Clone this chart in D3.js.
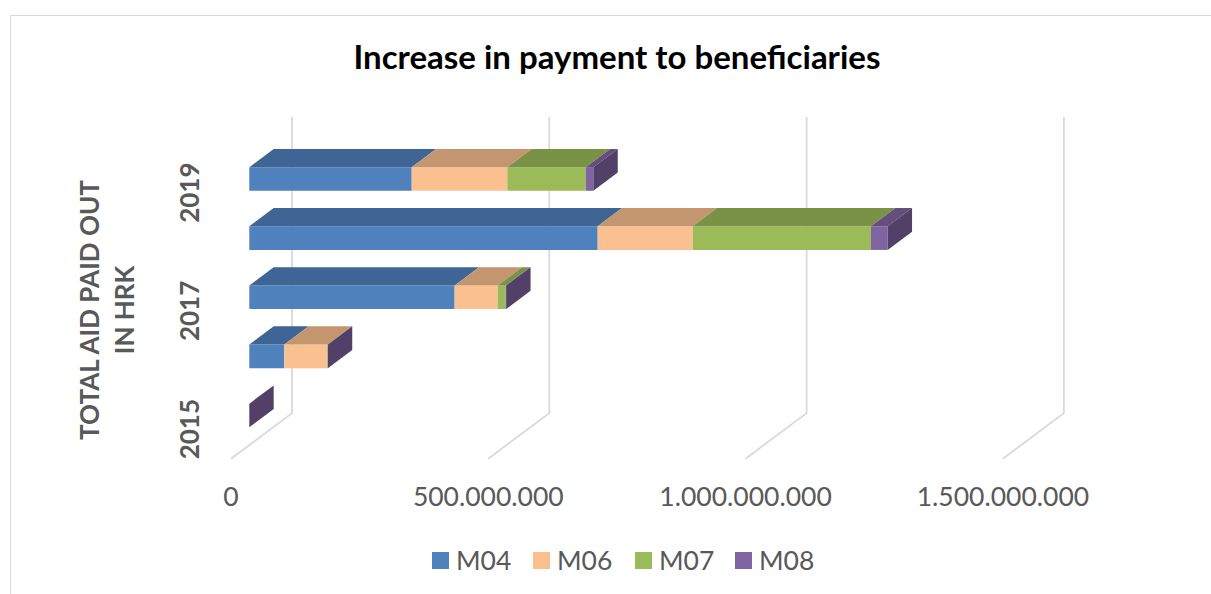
<!DOCTYPE html>
<html>
<head>
<meta charset="utf-8">
<script src="https://cdn.jsdelivr.net/npm/d3@7/dist/d3.min.js"></script>
<style>
  html, body { margin: 0; padding: 0; background: #fff; }
  svg { display: block; }
  text { font-family: Lato, "Open Sans", sans-serif; }
</style>
</head>
<body>
<svg id="chart" width="1211" height="594"></svg>
<script>
// Yearly aid paid out, stacked by measure (HRK)
const years = ["2015", "2016", "2017", "2018", "2019"];
const seriesNames = ["M04", "M06", "M07", "M08"];
const M04 = [0, 68e6, 399e6, 677e6, 315.6e6];
const M06 = [0, 83.6e6, 83.6e6, 184.6e6, 185.8e6];
const M07 = [0, 1e6, 15.5e6, 346.5e6, 152.4e6];
const M08 = [0, 0, 1e6, 32.4e6, 14.8e6];
const xTicks = [0, 500e6, 1000e6, 1500e6];
const yLabelYears = ["2015", "2017", "2019"];
const colors = ["#4F81BD", "#FAC090", "#9BBB59", "#8064A2"];

const svg = d3.select("#chart");

// oblique 3D projection: z runs from the front plane (0) to the back wall (1)
const X0 = 231, DX = 61, DY = 45.6;
const x = d3.scaleLinear().domain([0, 1500e6]).range([0, 771.9]);
const y = d3.scaleBand().domain(years.slice().reverse())
  .range([163.1, 458.7]).paddingInner(0.6).paddingOuter(0.3);
const floorY = 458.7, wallTopY = 117 + DY;
const proj = (v, yy, z) => [X0 + x(v) + z * DX, yy - z * DY];
const Z0 = 0.3, Z1 = 0.7;

const shade = (c, k) => { const r = d3.rgb(c); return d3.rgb(r.r * k, r.g * k, r.b * k).formatHex(); };
const poly = pts => "M" + pts.map(p => p.join(",")).join("L") + "Z";

// chart frame
svg.append("path").attr("d", "M10.5,594V15.5H1211")
  .attr("fill", "none").attr("stroke", "#D9D9D9").attr("stroke-width", 1);

// back-wall and floor gridlines
const grid = svg.append("g").attr("stroke", "#D9D9D9").attr("stroke-width", 1.8).attr("fill", "none");
xTicks.forEach(t => {
  const top = proj(t, wallTopY, 1), bot = proj(t, floorY, 1), front = proj(t, floorY, 0);
  grid.append("path").attr("d", "M" + top + "L" + bot + "L" + front);
});

// stacked bars
const stack = d3.stack().keys(seriesNames)(years.map((yr, i) => ({
  year: yr, M04: M04[i], M06: M06[i], M07: M07[i], M08: M08[i]
})));

const bars = svg.append("g");
years.forEach((yr, i) => {
  const yt = y(yr), yb = y(yr) + y.bandwidth();
  stack.forEach((layer, s) => {
    const [a, b] = layer[i];
    const c = colors[s];
    const g = bars.append("g");
    if (b > a) {
      g.append("path").attr("fill", c)
        .attr("d", poly([proj(a, yt, Z0), proj(b, yt, Z0), proj(b, yb, Z0), proj(a, yb, Z0)]));
      g.append("path").attr("fill", shade(c, 0.78))
        .attr("d", poly([proj(a, yt, Z0), proj(b, yt, Z0), proj(b, yt, Z1), proj(a, yt, Z1)]));
    }
    // end face of the stack takes the last series colour
    if (s === seriesNames.length - 1) {
      g.append("path").attr("fill", shade(c, 0.64))
        .attr("d", poly([proj(b, yt, Z0), proj(b, yt, Z1), proj(b, yb, Z1), proj(b, yb, Z0)]));
    }
  });
});

// value axis labels
svg.append("g").selectAll("text").data(xTicks).join("text")
  .attr("x", d => proj(d, floorY, 0)[0]).attr("y", 506)
  .attr("text-anchor", "middle").attr("font-size", 26.5).attr("fill", "#595959")
  .text(d => d3.format(",")(d).replace(/,/g, "."));

// category labels
svg.append("g").selectAll("text").data(yLabelYears).join("text")
  .attr("transform", d => `translate(199,${y(d) + y.bandwidth() / 2}) rotate(-90)`)
  .attr("text-anchor", "middle").attr("font-size", 26).attr("font-weight", "bold").attr("fill", "#595959")
  .text(d => d);

// axis title
const at = svg.append("text").attr("transform", "translate(99,310) rotate(-90)")
  .attr("text-anchor", "middle").attr("font-size", 26).attr("font-weight", "bold").attr("fill", "#595959");
at.append("tspan").attr("x", 0).attr("dy", 0).text("TOTAL AID PAID OUT");
at.append("tspan").attr("x", 0).attr("dy", 35).text("IN HRK");

// title
svg.append("text").attr("x", 617).attr("y", 69).attr("text-anchor", "middle")
  .attr("font-size", 33).attr("font-weight", "bold").attr("fill", "#000")
  .text("Increase in payment to beneficiaries");

// legend
const lg = svg.append("g");
const legendX = [432, 533, 635, 735];
seriesNames.forEach((n, i) => {
  lg.append("rect").attr("x", legendX[i]).attr("y", 552).attr("width", 17).attr("height", 17).attr("fill", colors[i]);
  lg.append("text").attr("x", legendX[i] + 24).attr("y", 570).attr("font-size", 26.5).attr("fill", "#595959").text(n);
});
</script>
</body>
</html>
